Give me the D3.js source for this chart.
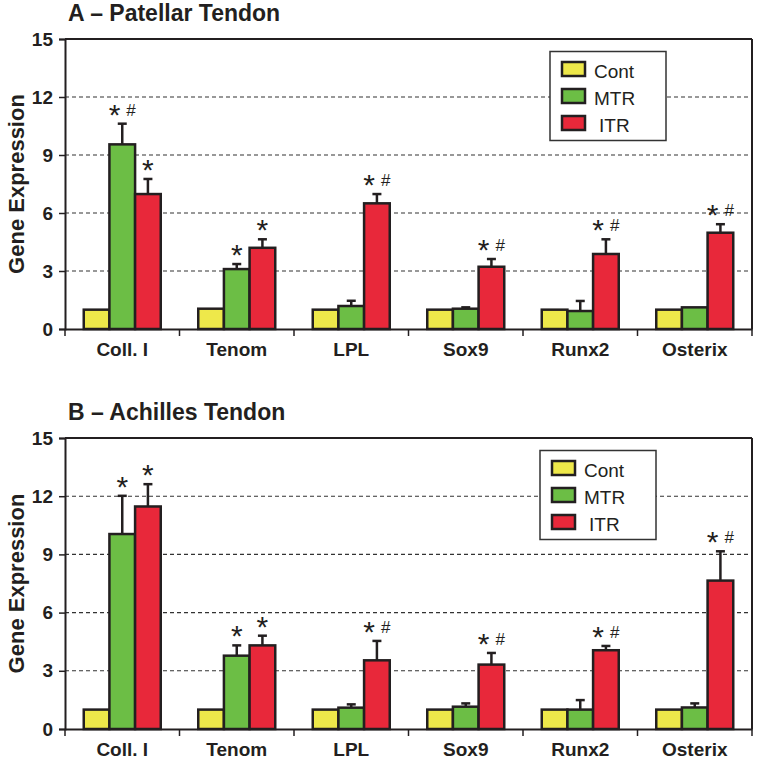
<!DOCTYPE html>
<html>
<head>
<meta charset="utf-8">
<script src="https://cdn.jsdelivr.net/npm/d3@7/dist/d3.min.js"></script>
<style>
  html, body { margin: 0; padding: 0; background: #fff; }
  svg { display: block; font-family: "Liberation Sans", Arial, sans-serif; }
</style>
</head>
<body>
<svg id="chart" width="760" height="761"></svg>
<script>
// ---- Data ----
const categories = ["Coll. I", "Tenom", "LPL", "Sox9", "Runx2", "Osterix"];
const seriesNames = ["Cont", "MTR", "ITR"];
const yTicks = [0, 3, 6, 9, 12, 15];

// Panel A - Patellar Tendon
const patellarCont   = [1, 1.05, 1, 1, 1, 1];
const patellarMTR    = [9.55, 3.1, 1.19, 1.05, 0.93, 1.12];
const patellarITR    = [6.98, 4.2, 6.5, 3.22, 3.88, 4.98];
const patellarContErr = [0, 0, 0, 0, 0, 0];
const patellarMTRErr = [1.07, 0.26, 0.27, 0.07, 0.52, 0.0];
const patellarITRErr = [0.78, 0.44, 0.48, 0.4, 0.76, 0.44];
const patellarMTRSig = ["* #", "*", "", "", "", ""];
const patellarITRSig = ["*", "*", "* #", "* #", "* #", "* #"];

// Panel B - Achilles Tendon
const achillesCont   = [1, 1, 1, 1, 1, 1];
const achillesMTR    = [10.05, 3.78, 1.1, 1.15, 1.0, 1.11];
const achillesITR    = [11.47, 4.31, 3.54, 3.32, 4.06, 7.65];
const achillesContErr = [0, 0, 0, 0, 0, 0];
const achillesMTRErr = [1.97, 0.53, 0.17, 0.17, 0.49, 0.21];
const achillesITRErr = [1.15, 0.5, 1.0, 0.6, 0.22, 1.51];
const achillesMTRSig = ["*", "*", "", "", "", ""];
const achillesITRSig = ["*", "*", "* #", "* #", "* #", "* #"];

const colors = ["#EEE84A", "#6CBE45", "#E8283A"];
const ink = "#231f20";

const svg = d3.select("#chart");

function drawPanel(opt) {
  const g = svg.append("g");
  const { left, right, top, bottom } = opt;
  const y = d3.scaleLinear().domain([0, 15]).range([bottom, top]);
  const x = d3.scaleBand().domain(categories).range([left, right]).padding(0);
  const groupW = 77;
  const xs = d3.scaleBand().domain(seriesNames).range([0, groupW]).padding(0);

  // Title
  g.append("text").attr("x", left + 3).attr("y", top - 18)
    .attr("font-size", 23).attr("font-weight", "bold").attr("fill", ink)
    .text(opt.title);

  // Gridlines
  g.append("g").selectAll("line").data(yTicks.filter(t => t > 0 && t < 15))
    .join("line")
    .attr("x1", left).attr("x2", right)
    .attr("y1", d => y(d)).attr("y2", d => y(d))
    .attr("stroke", "#333").attr("stroke-width", 1.1)
    .attr("stroke-dasharray", "4,3");

  // Legend
  const lg = g.append("g").attr("transform", `translate(${opt.legendX},${top + 12.5})`);
  lg.append("rect").attr("x", 0).attr("y", 0).attr("width", 116).attr("height", 89)
    .attr("fill", "#fff").attr("stroke", "#333").attr("stroke-width", 1.5);
  seriesNames.forEach((s, i) => {
    lg.append("rect").attr("x", 12).attr("y", 10.5 + i * 27)
      .attr("width", 23).attr("height", 14)
      .attr("fill", colors[i]).attr("stroke", ink).attr("stroke-width", 2.5);
    lg.append("text").attr("x", i === 2 ? 49 : 44).attr("y", 26 + i * 27)
      .attr("font-size", 19).attr("fill", ink).text(s);
  });

  // Bars
  const groups = g.append("g").selectAll("g").data(categories).join("g")
    .attr("transform", c => `translate(${x(c) + x.bandwidth() / 2 - groupW / 2},0)`);

  groups.each(function (c, ci) {
    const gg = d3.select(this);
    seriesNames.forEach((s, si) => {
      const v = opt.values[si][ci];
      const e = opt.errs[si][ci];
      const bx = xs(s);
      const bw = xs.bandwidth();
      const cx = bx + bw / 2;
      if (e > 0) {
        gg.append("line").attr("x1", cx).attr("x2", cx)
          .attr("y1", y(v)).attr("y2", y(v + e))
          .attr("stroke", ink).attr("stroke-width", 2.5);
        gg.append("line").attr("x1", cx - 4.5).attr("x2", cx + 4.5)
          .attr("y1", y(v + e)).attr("y2", y(v + e))
          .attr("stroke", ink).attr("stroke-width", 2.5);
      }
      gg.append("rect").attr("x", bx).attr("y", y(v))
        .attr("width", bw).attr("height", y(0) - y(v))
        .attr("fill", colors[si]).attr("stroke", ink).attr("stroke-width", 2.5);
      const sig = opt.sig[si] ? opt.sig[si][ci] : "";
      if (sig) {
        const ty = y(v + e) - 8;
        const t = gg.append("text").attr("x", cx).attr("y", ty)
          .attr("text-anchor", "middle").attr("fill", ink);
        t.append("tspan").attr("font-size", 30).attr("dy", 9).text("*");
        if (sig.includes("#")) {
          t.append("tspan").attr("font-size", 17).attr("dy", -9)
            .attr("dx", 6).text("#");
        }
      }
    });
  });

  // Frame: top and right border
  g.append("line").attr("x1", left).attr("x2", right).attr("y1", top).attr("y2", top)
    .attr("stroke", ink).attr("stroke-width", 2);
  g.append("line").attr("x1", right).attr("x2", right).attr("y1", top).attr("y2", bottom)
    .attr("stroke", ink).attr("stroke-width", 2);

  // Y axis
  const ya = g.append("g").attr("transform", `translate(${left},0)`)
    .call(d3.axisLeft(y).tickValues(yTicks).tickSize(6).tickPadding(6));
  ya.select(".domain").attr("stroke", ink).attr("stroke-width", 2);
  ya.selectAll(".tick line").attr("stroke", ink).attr("stroke-width", 1.5);
  ya.selectAll(".tick text").attr("font-size", 19).attr("font-weight", "bold")
    .attr("fill", ink).attr("font-family", "Liberation Sans, Arial, sans-serif");

  // X axis
  const xa = g.append("g").attr("transform", `translate(0,${bottom})`)
    .call(d3.axisBottom(x).tickSize(0).tickPadding(14));
  xa.select(".domain").attr("stroke", ink).attr("stroke-width", 2);
  xa.selectAll(".tick text").attr("font-size", 19).attr("font-weight", "bold")
    .attr("fill", ink).attr("font-family", "Liberation Sans, Arial, sans-serif");
  // boundary ticks
  const bounds = categories.map(c => x(c)).concat([right]);
  g.append("g").selectAll("line").data(bounds).join("line")
    .attr("x1", d => d).attr("x2", d => d)
    .attr("y1", bottom).attr("y2", bottom + 7)
    .attr("stroke", ink).attr("stroke-width", 1.5);

  // Y label
  g.append("text")
    .attr("transform", `translate(24,${(top + bottom) / 2}) rotate(-90)`)
    .attr("text-anchor", "middle").attr("font-size", 22).attr("font-weight", "bold")
    .attr("fill", ink).text("Gene Expression");
}

drawPanel({
  title: "A \u2013 Patellar Tendon",
  left: 65, right: 752, top: 39, bottom: 329, legendX: 550,
  values: [patellarCont, patellarMTR, patellarITR],
  errs: [patellarContErr, patellarMTRErr, patellarITRErr],
  sig: [null, patellarMTRSig, patellarITRSig]
});

drawPanel({
  title: "B \u2013 Achilles Tendon",
  left: 65, right: 752, top: 438, bottom: 729, legendX: 540,
  values: [achillesCont, achillesMTR, achillesITR],
  errs: [achillesContErr, achillesMTRErr, achillesITRErr],
  sig: [null, achillesMTRSig, achillesITRSig]
});
</script>
</body>
</html>
